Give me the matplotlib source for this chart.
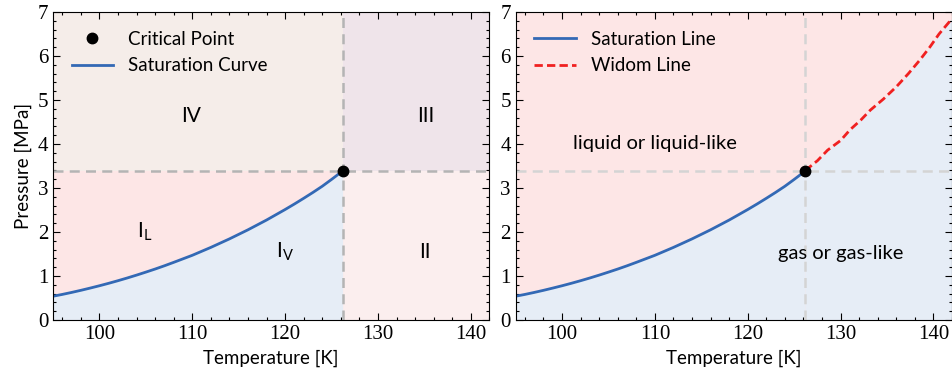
import matplotlib.pyplot as plt
import numpy as np

# nitrogen saturation curve (T in K, P in MPa)
sat_T = [95, 96, 97, 98, 99, 100, 101, 102, 103, 104, 105, 106, 107, 108, 109, 110,
         112, 114, 116, 118, 120, 121, 122, 123, 124, 125, 125.5, 126, 126.19]
sat_P = [0.540, 0.581, 0.626, 0.674, 0.725, 0.778, 0.834, 0.893, 0.955, 1.020, 1.088,
         1.158, 1.232, 1.310, 1.390, 1.470, 1.650, 1.843, 2.050, 2.272, 2.511, 2.636,
         2.766, 2.900, 3.040, 3.195, 3.275, 3.358, 3.396]

# widom line
widom_T = [126.19, 127.5, 128.6, 130.0, 131.0, 132.2, 133.2, 134.6, 136.0, 137.3, 138.5, 139.6, 140.6, 141.6, 142.0]
widom_P = [3.396, 3.62, 3.86, 4.08, 4.32, 4.55, 4.77, 5.02, 5.30, 5.60, 5.90, 6.20, 6.50, 6.75, 6.85]

Tc, Pc = 126.19, 3.396
xlim = (95, 142)
ylim = (0, 7)

region_labels = ['IV', 'III', 'II', r'I$_\mathregular{L}$', r'I$_\mathregular{V}$']
region_pos = [(109.9, 4.64), (135.1, 4.64), (135.1, 1.55), (104.9, 2.0), (120.0, 1.55)]

c_blue = '#3369b5'
c_red = '#f02020'
c_liq = '#fde6e6'
c_gas = '#e6edf6'

plt.rcParams['font.family'] = ['Lato', 'DejaVu Sans']
plt.rcParams['mathtext.fontset'] = 'custom'
plt.rcParams['mathtext.rm'] = 'Lato'

fig, axes = plt.subplots(1, 2, figsize=(9.53, 3.75), dpi=100)


def style_axis(ax):
    ax.set_xlim(*xlim)
    ax.set_ylim(*ylim)
    ax.minorticks_on()
    ax.tick_params(which='both', direction='in', top=True, right=True)
    ax.tick_params(which='major', length=5, width=0.8)
    ax.tick_params(which='minor', length=2.5, width=0.8)
    for lab in ax.get_xticklabels() + ax.get_yticklabels():
        lab.set_fontfamily('Liberation Serif')
        lab.set_fontsize(15)
    ax.set_xlabel('Temperature [K]', fontsize=13.5)


sT = np.array(sat_T)
sP = np.array(sat_P)
wT = np.array(widom_T)
wP = np.array(widom_P)

# ---- left panel
ax = axes[0]
ax.fill_between([xlim[0], Tc], Pc, ylim[1], color='#f5ede9', lw=0)
ax.fill_between([Tc, xlim[1]], Pc, ylim[1], color='#efe4ea', lw=0)
ax.fill_between([Tc, xlim[1]], 0, Pc, color='#fbeeee', lw=0)
ax.fill_between(sT, sP, Pc, color=c_liq, lw=0)
ax.fill_between(sT, 0, sP, color=c_gas, lw=0)
ax.axhline(Pc, color='#b4b4b4', ls='--', lw=1.8, dashes=(4, 2.5))
ax.axvline(Tc, color='#b4b4b4', ls='--', lw=1.8, dashes=(4, 2.5))
ax.plot(sT, sP, color=c_blue, lw=2, label='Saturation Curve')
ax.plot([Tc], [Pc], 'o', color='black', ms=7.5, label='Critical Point', zorder=5)
for txt, (x, y) in zip(region_labels, region_pos):
    ax.text(x, y, txt, fontsize=15, ha='center', va='center')
h, l = ax.get_legend_handles_labels()
ax.legend(h[::-1], l[::-1], loc='upper left', frameon=False, fontsize=13.5,
          borderaxespad=0.6, handlelength=2.2)
ax.set_ylabel('Pressure [MPa]', fontsize=13.5)
style_axis(ax)

# ---- right panel
ax = axes[1]
ax.axhspan(0, ylim[1], color=c_liq, lw=0)
ax.fill_between(sT, 0, sP, color=c_gas, lw=0)
ax.fill_between(wT, 0, wP, color=c_gas, lw=0)
ax.axhline(Pc, color='#d4d4d4', ls='--', lw=1.8, dashes=(4, 2.5))
ax.axvline(Tc, color='#d4d4d4', ls='--', lw=1.8, dashes=(4, 2.5))
ax.plot(sT, sP, color=c_blue, lw=2, label='Saturation Line')
ax.plot(wT, wP, color=c_red, lw=2, ls='--', dashes=(3, 1.5), label='Widom Line')
ax.plot([Tc], [Pc], 'o', color='black', ms=7.5, zorder=5)
ax.text(110.0, 4.02, 'liquid or liquid-like', fontsize=14.5, ha='center', va='center')
ax.text(130.0, 1.52, 'gas or gas-like', fontsize=14.5, ha='center', va='center')
ax.legend(loc='upper left', frameon=False, fontsize=13.5, borderaxespad=0.6,
          handlelength=2.2)
style_axis(ax)

fig.subplots_adjust(left=0.0556, right=0.999, bottom=0.1467, top=0.968, wspace=0.06)
fig.savefig('out.png', dpi=100)
